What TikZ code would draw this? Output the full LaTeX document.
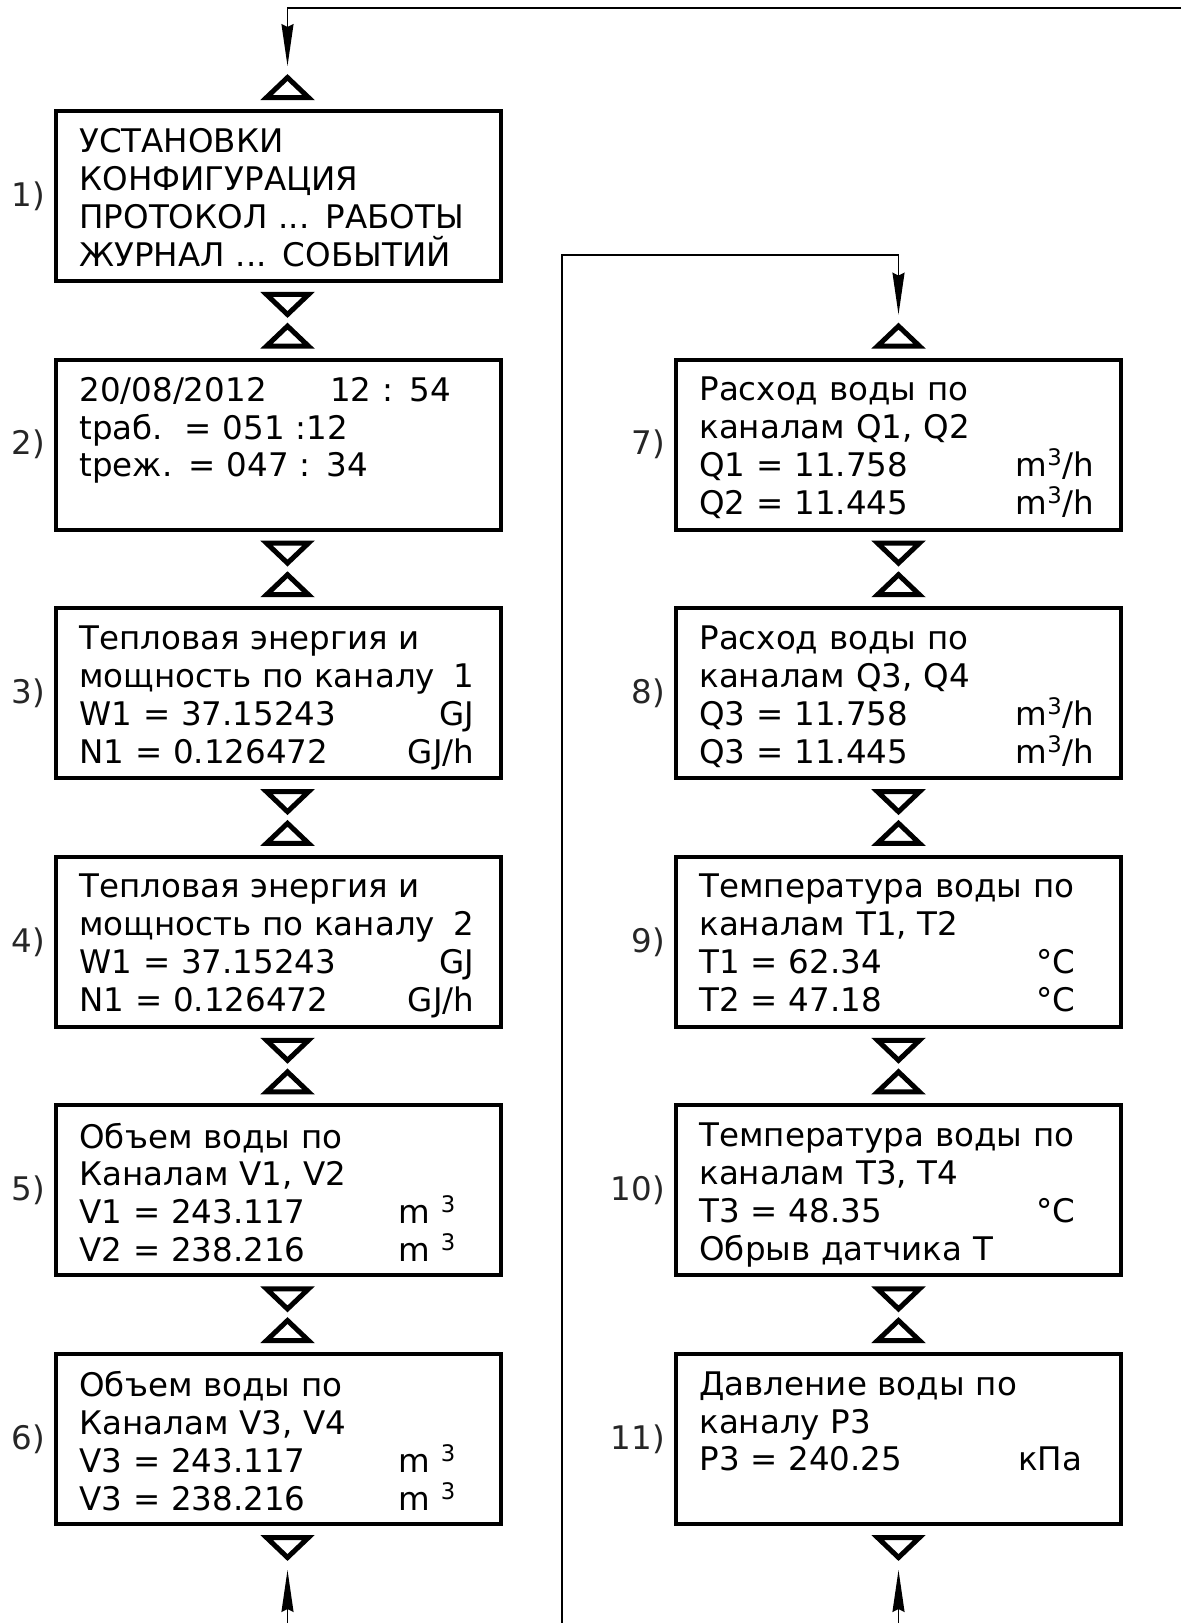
\documentclass[tikz,border=0pt]{standalone}
\usepackage{fontspec}
\setmainfont{DejaVu Sans}
\usetikzlibrary{arrows.meta}

\tikzset{
  screen/.style={draw, line width=0.08cm, minimum width=8.9cm, minimum height=3.4cm, inner sep=0},
  screentext/.style={anchor=north west, inner sep=0, text width=7.9cm, align=left, font=\fontsize{18.5}{21.6}\selectfont},
  num/.style={anchor=east, inner sep=0, text=black!85, font=\fontsize{18.5}{21.6}\selectfont},
  tri/.style={line width=0.1cm},
  flow/.style={line width=0.035cm, -{Stealth[length=0.84cm, width=0.24cm, inset=0.06cm]}}
}
\newcommand{\triup}[2]{\draw[tri] ([shift={(#2,-11.5)}]#1.north) ++(-21,0) -- ++(42,0) -- ++(-21,-20) -- cycle;}
\newcommand{\tridown}[2]{\draw[tri] ([shift={(#2,11.5)}]#1.south) ++(-21,0) -- ++(42,0) -- ++(-21,20) -- cycle;}
\newcommand{\valrow}[2]{\makebox[6.38cm][l]{#1}#2}
\newcommand{\cube}{\textsuperscript{3}}

\begin{document}
\begin{tikzpicture}[x=0.02cm, y=-0.02cm]
\useasboundingbox (0,0) rectangle (1181,1623);

\node[screen] (b1) at (278.5,196) {};
\node[screen] (b2) at (278.5,444.6) {};
\node[screen] (b3) at (278.5,693.2) {};
\node[screen] (b4) at (278.5,941.8) {};
\node[screen] (b5) at (278.5,1190.4) {};
\node[screen] (b6) at (278.5,1439) {};
\node[screen] (b7) at (898.5,444.6) {};
\node[screen] (b8) at (898.5,693.2) {};
\node[screen] (b9) at (898.5,941.8) {};
\node[screen] (b10) at (898.5,1190.4) {};
\node[screen] (b11) at (898.5,1439) {};

\node[screentext] (t1) at ([shift={(25,19)}]b1.north west) {УСТАНОВКИ\\КОНФИГУРАЦИЯ\\ПРОТОКОЛ ... РАБОТЫ\\ЖУРНАЛ ... СОБЫТИЙ};
\node[screentext] (t2) at ([shift={(25,19)}]b2.north west) {\makebox[5.02cm][l]{20/08/2012}12 : 54\\tраб.\ \ = 051 :12\\tреж. = 047 : 34};
\node[screentext] (t3) at ([shift={(25,19)}]b3.north west) {Тепловая энергия и\\мощность по каналу\hfill 1\\W1 = 37.15243\hfill GJ\\N1 = 0.126472\hfill GJ/h};
\node[screentext] (t4) at ([shift={(25,19)}]b4.north west) {Тепловая энергия и\\мощность по каналу\hfill 2\\W1 = 37.15243\hfill GJ\\N1 = 0.126472\hfill GJ/h};
\node[screentext] (t5) at ([shift={(25,19)}]b5.north west) {Объем воды по\\Каналам V1, V2\\\valrow{V1 = 243.117}{m \cube}\\\valrow{V2 = 238.216}{m \cube}};
\node[screentext] (t6) at ([shift={(25,19)}]b6.north west) {Объем воды по\\Каналам V3, V4\\\valrow{V3 = 243.117}{m \cube}\\\valrow{V3 = 238.216}{m \cube}};
\node[screentext] (t7) at ([shift={(25,19)}]b7.north west) {Расход воды по\\каналам Q1, Q2\\Q1 = 11.758\hfill m\cube/h\\Q2 = 11.445\hfill m\cube/h};
\node[screentext] (t8) at ([shift={(25,19)}]b8.north west) {Расход воды по\\каналам Q3, Q4\\Q3 = 11.758\hfill m\cube/h\\Q3 = 11.445\hfill m\cube/h};
\node[screentext] (t9) at ([shift={(25,19)}]b9.north west) {Температура воды по\\каналам T1, T2\\\valrow{T1 = 62.34}{\hspace{0.36cm}°C}\\\valrow{T2 = 47.18}{\hspace{0.36cm}°C}};
\node[screentext] (t10) at ([shift={(25,19)}]b10.north west) {Температура воды по\\каналам T3, T4\\\valrow{T3 = 48.35}{\hspace{0.36cm}°C}\\Обрыв датчика T};
\node[screentext] (t11) at ([shift={(25,19)}]b11.north west) {Давление воды по\\каналу P3\\\valrow{P3 = 240.25}{кПа}};

\node[num] (n1) at ([shift={(-9,0)}]b1.west) {1)};
\node[num] (n2) at ([shift={(-9,0)}]b2.west) {2)};
\node[num] (n3) at ([shift={(-9,0)}]b3.west) {3)};
\node[num] (n4) at ([shift={(-9,0)}]b4.west) {4)};
\node[num] (n5) at ([shift={(-9,0)}]b5.west) {5)};
\node[num] (n6) at ([shift={(-9,0)}]b6.west) {6)};
\node[num] (n7) at ([shift={(-9,0)}]b7.west) {7)};
\node[num] (n8) at ([shift={(-9,0)}]b8.west) {8)};
\node[num] (n9) at ([shift={(-9,0)}]b9.west) {9)};
\node[num] (n10) at ([shift={(-9,0)}]b10.west) {10)};
\node[num] (n11) at ([shift={(-9,0)}]b11.west) {11)};

\triup{b1}{9} \tridown{b1}{9}
\triup{b2}{9} \tridown{b2}{9}
\triup{b3}{9} \tridown{b3}{9}
\triup{b4}{9} \tridown{b4}{9}
\triup{b5}{9} \tridown{b5}{9}
\triup{b6}{9} \tridown{b6}{9}
\triup{b7}{0} \tridown{b7}{0}
\triup{b8}{0} \tridown{b8}{0}
\triup{b9}{0} \tridown{b9}{0}
\triup{b10}{0} \tridown{b10}{0}
\triup{b11}{0} \tridown{b11}{0}

\coordinate (topR) at (1181,8);
\coordinate (in1) at ([shift={(9,-43)}]b1.north);
\draw[flow] (topR) -| (in1);

\coordinate (loopB) at (562,1623);
\coordinate (loopT) at (562,255);
\coordinate (in7) at ([shift={(0,-43)}]b7.north);
\draw[flow] (loopB) -- (loopT) -| (in7);

\coordinate (botL) at (287.5,1623);
\coordinate (out6) at ([shift={(9,44)}]b6.south);
\draw[flow] (botL) -- (out6);
\coordinate (botR) at (898.5,1623);
\coordinate (out11) at ([shift={(0,44)}]b11.south);
\draw[flow] (botR) -- (out11);
\end{tikzpicture}
\end{document}
